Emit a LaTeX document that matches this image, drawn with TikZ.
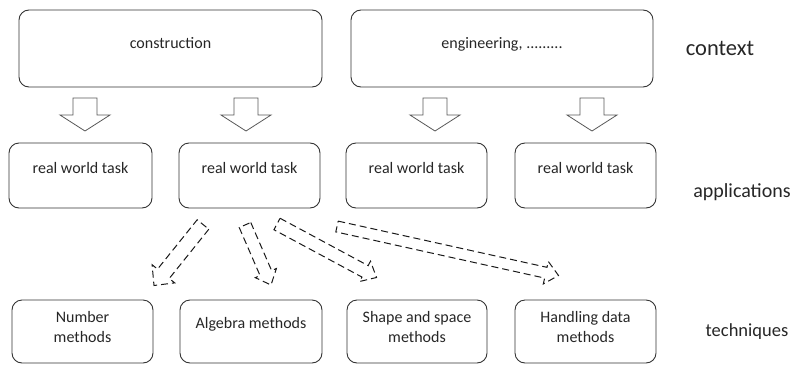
\documentclass[tikz,border=0pt]{standalone}
\usepackage{fontspec}
\setmainfont{Carlito}
\usetikzlibrary{calc}
% hollow block arrow: #1 style, #2 tail, #3 tip, #4 shaft half width, #5 head half width, #6 head length
\newcommand\hollowarrow[6]{%
  \coordinate (ha-b) at ($(#3)!#6!(#2)$);
  \draw[#1] ($(#2)!#4!90:(#3)$) -- ($(ha-b)!#4!-90:(#2)$) -- ($(ha-b)!#5!-90:(#2)$)
    -- (#3) -- ($(ha-b)!#5!90:(#2)$) -- ($(ha-b)!#4!90:(#2)$) -- ($(#2)!#4!-90:(#3)$) -- cycle;
}
\begin{document}
\begin{tikzpicture}[x=1pt,y=-1pt,
  box/.style={draw=black!80, line width=0.9pt, rounded corners=10pt, align=center,
    inner sep=0pt, font=\fontsize{16}{20}\selectfont, text=black!85, text height=10pt},
  ctxbox/.style={box, minimum width=303pt, minimum height=77pt, text depth=11pt},
  taskbox/.style={box, minimum width=142pt, minimum height=65pt, text depth=15pt},
  techone/.style={box, minimum width=141pt, minimum height=63pt, text depth=17pt},
  techtwo/.style={box, minimum width=141pt, minimum height=63pt, text height=21pt, text depth=0pt},
  lab/.style={text=black!85, inner sep=0pt},
  blockstyle/.style={draw=black!65, line width=0.8pt, line join=miter},
  dashstyle/.style={draw=black!90, line width=1pt, dash pattern=on 7pt off 4pt, line join=miter}
]
\useasboundingbox (0,0) rectangle (799,364);

% context row
\node[ctxbox] (ctx1) at (170.5,48.5) {construction};
\node[ctxbox, minimum width=302pt] (ctx2) at (502,48.5) {engineering, .........};
\node[lab, font=\fontsize{22.5}{26}\selectfont] (lctx) at (720,48.5) {context};

% applications row
\node[taskbox, minimum width=143pt] (rw1) at (80.5,175.5) {real world task};
\node[taskbox, minimum width=141pt] (rw2) at (249.5,175.5) {real world task};
\node[taskbox, minimum width=141pt] (rw3) at (416.5,175.5) {real world task};
\node[taskbox, minimum width=141pt] (rw4) at (585.5,175.5) {real world task};
\node[lab, font=\fontsize{20}{24}\selectfont] (lapp) at (742,192) {applications};

% techniques row
\node[techtwo] (t1) at (82.5,331.5) {Number\\methods};
\node[techone, minimum width=142pt] (t2) at (251,331.5) {Algebra methods};
\node[techtwo, minimum width=140pt] (t3) at (417,331.5) {Shape and space\\methods};
\node[techtwo] (t4) at (585.5,331.5) {Handling data\\methods};
\node[lab, font=\fontsize{18.5}{22}\selectfont] (ltech) at (747,332) {techniques};

% solid hollow block arrows context -> applications
\coordinate (b1s) at (85,98);  \coordinate (b1e) at (85,131);
\coordinate (b2s) at (246,98); \coordinate (b2e) at (246,131);
\coordinate (b3s) at (435,98); \coordinate (b3e) at (435,131);
\coordinate (b4s) at (592,98); \coordinate (b4e) at (592,131);
\hollowarrow{blockstyle}{b1s}{b1e}{12pt}{25pt}{16pt}
\hollowarrow{blockstyle}{b2s}{b2e}{12pt}{25pt}{16pt}
\hollowarrow{blockstyle}{b3s}{b3e}{12pt}{25pt}{16pt}
\hollowarrow{blockstyle}{b4s}{b4e}{12pt}{25pt}{16pt}

% dashed hollow block arrows applications -> techniques
\coordinate (dAs) at (203,224.5); \coordinate (dAe) at (154,285.5);
\coordinate (dBs) at (245,225);   \coordinate (dBe) at (271,285);
\coordinate (dCs) at (277,224);   \coordinate (dCe) at (376.5,277.5);
\coordinate (dDs) at (337,226.5); \coordinate (dDe) at (558.5,275.5);
\hollowarrow{dashstyle}{dAs}{dAe}{7.5pt}{14.5pt}{15pt}
\hollowarrow{dashstyle}{dBs}{dBe}{6.3pt}{11.5pt}{13pt}
\hollowarrow{dashstyle}{dCs}{dCe}{6.5pt}{11.5pt}{13pt}
\hollowarrow{dashstyle}{dDs}{dDe}{5.5pt}{11.5pt}{13pt}
\end{tikzpicture}
\end{document}
